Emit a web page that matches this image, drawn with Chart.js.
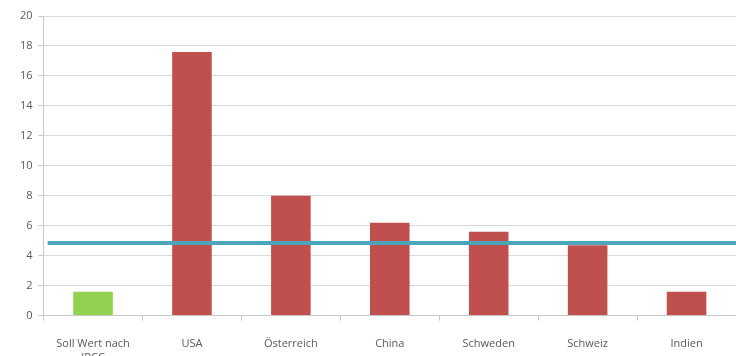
<!DOCTYPE html>
<html>
<head>
<meta charset="utf-8">
<script src="https://cdn.jsdelivr.net/npm/chart.js@4/dist/chart.umd.min.js"></script>
<style>
  html, body { margin: 0; padding: 0; background: #fff; }
  #wrap { width: 736px; height: 356px; overflow: hidden; }
</style>
</head>
<body>
<div id="wrap"><canvas id="co2Chart" width="736" height="381"></canvas></div>
<script>
var labels = [['Soll Wert nach', 'IPCC'], 'USA', 'Österreich', 'China', 'Schweden', 'Schweiz', 'Indien'];
var werte = [1.6, 17.6, 8.0, 6.2, 5.6, 4.7, 1.6];
var farben = ['#92d050', '#c0504d', '#c0504d', '#c0504d', '#c0504d', '#c0504d', '#c0504d'];
var weltDurchschnitt = 4.85;
var yTicks = [0, 2, 4, 6, 8, 10, 12, 14, 16, 18, 20];

var ctx = document.getElementById('co2Chart').getContext('2d');

var data = {
    labels: labels,
    datasets: [{
        type: 'bar',
        data: werte,
        backgroundColor: farben,
        borderWidth: 0,
        grouped: false,
        categoryPercentage: 1,
        barPercentage: 0.4,
        order: 2
    }, {
        type: 'line',
        xAxisID: 'xLinie',
        data: [{ x: 0, y: weltDurchschnitt }, { x: 1, y: weltDurchschnitt }],
        borderColor: '#4aa6b8',
        borderWidth: 4,
        pointRadius: 0,
        order: 1
    }]
};

var options = {
    responsive: false,
    animation: false,
    layout: { padding: { top: 16, right: 0, left: 14, bottom: 0 } },
    plugins: { legend: { display: false }, tooltip: { enabled: false } },
    scales: {
        x: {
            grid: { offset: true, drawOnChartArea: false, drawTicks: true, tickLength: 5, color: '#c8c8c8' },
            border: { color: '#c8c8c8' },
            ticks: { color: '#595959', font: { family: 'Open Sans', size: 11 }, maxRotation: 0, padding: 17 }
        },
        xLinie: {
            type: 'linear',
            display: false,
            min: -0.006,
            max: 1,
            offset: false
        },
        y: {
            min: 0,
            max: 20,
            afterBuildTicks: function (axis) {
                axis.ticks = yTicks.map(function (v) { return { value: v }; });
            },
            grid: { color: '#d9d9d9', tickLength: 5, drawTicks: true, tickColor: '#c8c8c8' },
            border: { color: '#c8c8c8' },
            ticks: { color: '#595959', font: { family: 'Open Sans', size: 11 }, padding: 6 }
        }
    }
};

new Chart(ctx, { data: data, options: options });
</script>
</body>
</html>
